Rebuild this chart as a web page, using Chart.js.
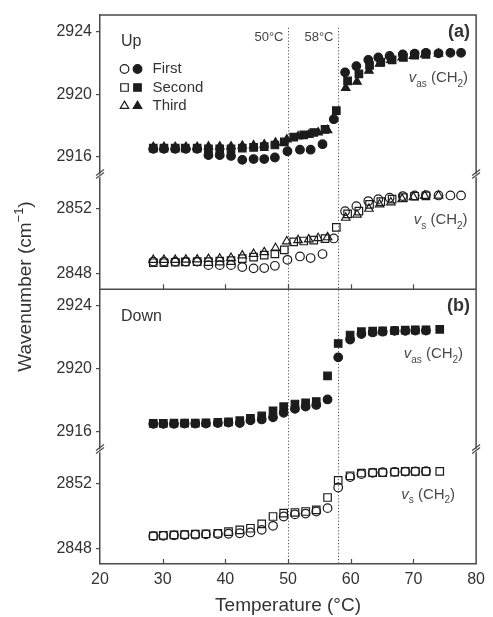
<!DOCTYPE html>
<html>
<head>
<meta charset="utf-8">
<script src="https://cdn.jsdelivr.net/npm/chart.js@4.4.1/dist/chart.umd.min.js"></script>
<style>
  html, body { margin: 0; padding: 0; background: #fff; }
  canvas { display: block; }
</style>
</head>
<body>
<canvas id="c" width="493" height="617"></canvas>
<script>
// ---- Temperature axis ----
const xTicks = [20, 30, 40, 50, 60, 70, 80];
const transitionTemps = [50, 58];
const transitionLabels = ['50°C', '58°C'];

// ---- Wavenumber ticks for each axis section ----
const ticksAs = [2916, 2920, 2924];   // asymmetric stretch sections
const ticksS = [2848, 2852];          // symmetric stretch sections
const runs = ['First', 'Second', 'Third'];

// ---- (a) heating: First run ----
const tUpFirst = [28.5, 30.2, 32.0, 33.7, 35.5, 37.3, 39.1, 40.9, 42.7, 44.5, 46.2, 47.9, 49.9, 51.9, 53.6, 55.5, 57.3,
  59.1, 60.9, 62.8, 64.4, 66.2, 68.3, 70.2, 72.0, 74.0, 75.9, 77.6];
const vasUpFirst = [2916.5, 2916.5, 2916.5, 2916.5, 2916.5, 2916.1, 2916.1, 2916.05, 2915.8, 2915.85, 2915.85, 2915.95,
  2916.35, 2916.45, 2916.45, 2916.8, 2918.4, 2921.4, 2921.8, 2922.2, 2922.35, 2922.45, 2922.55, 2922.6, 2922.65,
  2922.62, 2922.65, 2922.65];
const vsUpFirst = [2848.72, 2848.72, 2848.72, 2848.72, 2848.72, 2848.5, 2848.5, 2848.5, 2848.38, 2848.3, 2848.32, 2848.46,
  2848.83, 2849.04, 2848.94, 2849.19, 2850.16, 2851.85, 2852.16, 2852.48, 2852.6, 2852.69, 2852.79, 2852.83, 2852.85,
  2852.83, 2852.83, 2852.83];

// ---- (a) heating: Second run ----
const tUpSecond = [28.5, 30.2, 32.0, 33.6, 35.5, 37.3, 39.1, 40.9, 42.7, 44.5, 46.2, 47.9, 49.4, 50.9, 52.5, 54.1, 55.9, 57.7,
  59.5, 61.3, 63.0, 64.8, 66.6, 68.4, 70.2, 72.0];
const vasUpSecond = [2916.55, 2916.55, 2916.55, 2916.55, 2916.55, 2916.5, 2916.5, 2916.5, 2916.55, 2916.6, 2916.65, 2916.75,
  2916.95, 2917.25, 2917.4, 2917.55, 2917.75, 2918.95, 2920.85, 2921.3, 2921.85, 2922.05, 2922.2, 2922.35, 2922.5, 2922.55];
const vsUpSecond = [2848.65, 2848.65, 2848.68, 2848.7, 2848.72, 2848.72, 2848.75, 2848.78, 2848.9, 2849.0, 2849.12, 2849.2,
  2849.45, 2849.95, 2850.0, 2850.05, 2850.15, 2850.85, 2851.69, 2851.85, 2852.27, 2852.45, 2852.6, 2852.7, 2852.78, 2852.8];

// ---- (a) heating: Third run ----
const tUpThird = [28.5, 30.2, 32.0, 33.7, 35.5, 37.3, 39.1, 40.9, 42.7, 44.5, 46.2, 48.0, 49.8, 51.6, 53.3, 54.8, 56.3,
  59.2, 61.0, 62.9, 64.6, 66.4, 68.2, 70.0, 71.8, 74.0];
const vasUpThird = [2916.62, 2916.62, 2916.62, 2916.62, 2916.62, 2916.65, 2916.65, 2916.65, 2916.7, 2916.72, 2916.78, 2916.9,
  2917.1, 2917.3, 2917.4, 2917.55, 2917.7, 2920.4, 2920.8, 2921.5, 2921.95, 2922.2, 2922.35, 2922.45, 2922.55, 2922.6];
const vsUpThird = [2848.83, 2848.83, 2848.83, 2848.84, 2848.85, 2848.88, 2848.9, 2848.95, 2849.1, 2849.2, 2849.3, 2849.56,
  2849.98, 2850.05, 2850.1, 2850.18, 2850.23, 2851.44, 2851.64, 2852.0, 2852.27, 2852.4, 2852.6, 2852.72, 2852.8, 2852.82];

// ---- (b) cooling ----
const tDownSq = [28.5, 30.1, 31.8, 33.5, 35.2, 36.9, 38.8, 40.5, 42.3, 44.0, 45.8, 47.6, 49.3, 51.1, 52.8, 54.5, 56.3, 58.0,
  59.9, 61.7, 63.5, 65.1, 67.0, 68.7, 70.3, 72.0, 74.2];
const vasDownSq = [2916.53, 2916.53, 2916.55, 2916.55, 2916.55, 2916.57, 2916.6, 2916.62, 2916.7, 2916.85, 2917.0, 2917.33,
  2917.59, 2917.76, 2917.84, 2917.92, 2919.54, 2921.6, 2922.14, 2922.35, 2922.38, 2922.4, 2922.42, 2922.45, 2922.46,
  2922.47, 2922.5];
const vsDownSq = [2848.77, 2848.8, 2848.83, 2848.85, 2848.87, 2848.9, 2848.93, 2849.03, 2849.14, 2849.24, 2849.51, 2849.97,
  2850.18, 2850.22, 2850.28, 2850.38, 2851.15, 2852.21, 2852.5, 2852.67, 2852.7, 2852.7, 2852.73, 2852.77, 2852.77,
  2852.77, 2852.77];
const tDownCirc = [28.5, 30.1, 31.8, 33.5, 35.2, 36.9, 38.8, 40.5, 42.3, 44.0, 45.8, 47.6, 49.3, 51.1, 52.8, 54.5, 56.3, 58.0,
  59.9, 61.7, 63.5, 65.1, 67.0, 68.7, 70.3, 72.0];
const vasDownCirc = [2916.5, 2916.5, 2916.5, 2916.52, 2916.52, 2916.52, 2916.55, 2916.58, 2916.55, 2916.72, 2916.78, 2916.92,
  2917.2, 2917.45, 2917.6, 2917.7, 2918.05, 2920.72, 2921.85, 2922.2, 2922.3, 2922.35, 2922.4, 2922.4, 2922.42, 2922.42];
const vsDownCirc = [2848.75, 2848.77, 2848.8, 2848.82, 2848.84, 2848.86, 2848.88, 2848.9, 2848.93, 2848.98, 2849.14, 2849.39,
  2849.97, 2850.1, 2850.15, 2850.28, 2850.49, 2851.77, 2852.42, 2852.6, 2852.68, 2852.72, 2852.74, 2852.76, 2852.77, 2852.78];

// ---- styling ----
const FONT = "'Liberation Sans', Arial, Helvetica, sans-serif";
const INK = '#333333';
const AXIS = '#4a4a4a';
const MARK = '#1c1c1c';
const SIZE = { circle: 4.3, rect: 5.3, triangle: 4.9 };

function series(label, xs, ys, axis, style, filled) {
  return {
    label,
    yAxisID: axis,
    data: xs.map((x, i) => ({ x, y: ys[i] })),
    pointStyle: style,
    pointRadius: SIZE[style],
    pointHoverRadius: SIZE[style],
    pointBackgroundColor: filled ? MARK : 'rgba(0,0,0,0)',
    pointBorderColor: MARK,
    pointBorderWidth: 1.2,
    showLine: false
  };
}

function yScale(min, max, ticks, weight, stackWeight) {
  return {
    type: 'linear',
    position: 'left',
    stack: 'wavenumber',
    stackWeight,
    weight,
    min,
    max,
    afterBuildTicks: s => { s.ticks = ticks.map(v => ({ value: v })); },
    afterFit: s => { s.width = 50; },
    grid: { drawOnChartArea: false, drawTicks: true, tickLength: 4, color: AXIS, lineWidth: 1.2 },
    border: { display: true, color: AXIS, width: 1.5 },
    ticks: { font: { family: FONT, size: 16, lineHeight: 1 }, color: INK, padding: 4, callback: v => String(v) }
  };
}

function richText(ctx, parts, x, yBase, size, align) {
  const fontFor = k => (k === 'i' ? 'italic ' : '') + ((k === 's' || k === 'u') ? Math.round(size * 0.68) : size) + 'px ' + FONT;
  let w = 0;
  for (const [t, k] of parts) { ctx.font = fontFor(k); w += ctx.measureText(t).width; }
  let cx = align === 'right' ? x - w : (align === 'center' ? x - w / 2 : x);
  ctx.textAlign = 'left';
  ctx.textBaseline = 'alphabetic';
  for (const [t, k] of parts) {
    ctx.font = fontFor(k);
    const dy = k === 's' ? size * 0.3 : (k === 'u' ? -size * 0.42 : 0);
    ctx.fillText(t, cx, yBase + dy);
    cx += ctx.measureText(t).width;
  }
}

function drawBreak(ctx, x, y) {
  ctx.save();
  ctx.fillStyle = '#fff';
  ctx.beginPath();
  ctx.moveTo(x - 4, y + 2); ctx.lineTo(x + 4, y - 4); ctx.lineTo(x + 4, y - 1); ctx.lineTo(x - 4, y + 5);
  ctx.closePath();
  ctx.fill();
  ctx.strokeStyle = AXIS;
  ctx.lineWidth = 1.2;
  for (const dy of [0, 3]) {
    ctx.beginPath();
    ctx.moveTo(x - 4, y + 2 + dy - 1.5);
    ctx.lineTo(x + 4, y - 4 + dy - 1.5);
    ctx.stroke();
  }
  ctx.restore();
}

const decor = {
  id: 'decor',
  beforeDatasetsDraw(chart) {
    const { ctx, chartArea, scales } = chart;
    const top = scales.yA1.getPixelForValue(2924.25);
    ctx.save();
    ctx.strokeStyle = '#5a5a5a';
    ctx.lineWidth = 1;
    ctx.setLineDash([1.2, 2]);
    transitionTemps.forEach((t, i) => {
      const px = Math.round(scales.x.getPixelForValue(t)) + 0.5;
      ctx.beginPath();
      ctx.moveTo(px, top);
      ctx.lineTo(px, chartArea.bottom);
      ctx.stroke();
      ctx.fillStyle = '#444';
      ctx.font = '13px ' + FONT;
      ctx.textAlign = 'right';
      ctx.textBaseline = 'middle';
      ctx.fillText(transitionLabels[i], px - 5, chartArea.top + 22);
    });
    ctx.restore();
  },
  afterDatasetsDraw(chart) {
    const { ctx, chartArea, scales } = chart;
    const { left, right, top, bottom } = chartArea;
    const divider = scales.yA2.bottom;
    ctx.save();

    // frame: top, right and the line between the two panels
    ctx.strokeStyle = AXIS;
    ctx.lineWidth = 1.5;
    ctx.beginPath();
    ctx.moveTo(left, top); ctx.lineTo(right, top); ctx.lineTo(right, bottom);
    ctx.moveTo(left, divider); ctx.lineTo(right, divider);
    ctx.stroke();

    // inward temperature ticks on each panel's lower edge
    ctx.lineWidth = 1.2;
    for (const base of [divider, bottom]) {
      for (const t of xTicks) {
        if (t === scales.x.min || t === scales.x.max) continue;
        const px = Math.round(scales.x.getPixelForValue(t)) + 0.5;
        ctx.beginPath(); ctx.moveTo(px, base); ctx.lineTo(px, base - 5); ctx.stroke();
      }
    }

    // axis breaks
    for (const y of [scales.yA1.bottom, scales.yB1.bottom]) {
      drawBreak(ctx, left, y);
      drawBreak(ctx, right, y);
    }

    // panel captions
    ctx.fillStyle = INK;
    ctx.textBaseline = 'middle';
    ctx.textAlign = 'left';
    ctx.font = '16px ' + FONT;
    ctx.fillText('Up', left + 21, top + 27);
    ctx.fillText('Down', left + 21, divider + 27.5);
    ctx.textAlign = 'right';
    ctx.font = 'bold 18px ' + FONT;
    ctx.fillText('(a)', right - 6, top + 17);
    ctx.fillText('(b)', right - 6, divider + 17);

    // legend: open (symmetric) and filled (asymmetric) markers per run
    const styles = ['circle', 'rect', 'triangle'];
    runs.forEach((name, i) => {
      const y = top + 54 + i * 18.5;
      const st = styles[i];
      const r = SIZE[st];
      ctx.strokeStyle = MARK;
      ctx.lineWidth = 1.2;
      ctx.fillStyle = 'rgba(0,0,0,0)';
      Chart.helpers.drawPoint(ctx, { pointStyle: st, radius: r, borderWidth: 1.2, rotation: 0 }, left + 24.5, y);
      ctx.fillStyle = MARK;
      Chart.helpers.drawPoint(ctx, { pointStyle: st, radius: r, borderWidth: 1.2, rotation: 0 }, left + 37.5, y);
      ctx.fillStyle = INK;
      ctx.font = '15px ' + FONT;
      ctx.textAlign = 'left';
      ctx.textBaseline = 'middle';
      ctx.fillText(name, left + 52.5, y);
    });

    // band labels
    ctx.fillStyle = '#4a4a4a';
    const vas = [['v', 'i'], ['as', 's'], [' (CH', ''], ['2', 's'], [')', '']];
    const vs = [['v', 'i'], ['s', 's'], [' (CH', ''], ['2', 's'], [')', '']];
    richText(ctx, vas, right - 8, top + 67, 15, 'right');
    richText(ctx, vs, right - 8.5, scales.yA2.top + 49, 15, 'right');
    richText(ctx, vas, right - 13, divider + 69, 15, 'right');
    richText(ctx, vs, right - 21, scales.yB2.top + 48.5, 15, 'right');

    // wavenumber axis title
    ctx.save();
    ctx.translate(31, (top + bottom) / 2 - 3);
    ctx.rotate(-Math.PI / 2);
    ctx.fillStyle = INK;
    richText(ctx, [['Wavenumber (cm', ''], ['\u22121', 'u'], [')', '']], 0, 0, 19, 'center');
    ctx.restore();

    ctx.restore();
  }
};

new Chart(document.getElementById('c'), {
  type: 'scatter',
  data: {
    datasets: [
      series('First', tUpFirst, vasUpFirst, 'yA1', 'circle', true),
      series('Second', tUpSecond, vasUpSecond, 'yA1', 'rect', true),
      series('Third', tUpThird, vasUpThird, 'yA1', 'triangle', true),
      series('First', tUpFirst, vsUpFirst, 'yA2', 'circle', false),
      series('Second', tUpSecond, vsUpSecond, 'yA2', 'rect', false),
      series('Third', tUpThird, vsUpThird, 'yA2', 'triangle', false),
      series('First', tDownCirc, vasDownCirc, 'yB1', 'circle', true),
      series('Second', tDownSq, vasDownSq, 'yB1', 'rect', true),
      series('First', tDownCirc, vsDownCirc, 'yB2', 'circle', false),
      series('Second', tDownSq, vsDownSq, 'yB2', 'rect', false)
    ]
  },
  options: {
    responsive: false,
    animation: false,
    devicePixelRatio: 1,
    events: [],
    layout: { padding: { left: 50, top: 15, right: 12, bottom: 0 } },
    plugins: { legend: { display: false }, tooltip: { enabled: false } },
    scales: {
      x: {
        type: 'linear',
        position: 'bottom',
        min: 20,
        max: 80,
        afterBuildTicks: s => { s.ticks = xTicks.map(v => ({ value: v })); },
        afterFit: s => { s.height = 53; },
        grid: { drawOnChartArea: false, drawTicks: false },
        border: { display: true, color: AXIS, width: 1.5 },
        ticks: { font: { family: FONT, size: 16, lineHeight: 1 }, color: INK, padding: 8, maxRotation: 0, callback: v => String(v) },
        title: { display: true, text: 'Temperature (°C)', color: INK, font: { family: FONT, size: 19, lineHeight: 1 }, padding: { top: 0, bottom: 2 } }
      },
      yA1: yScale(2914.83, 2925.07, ticksAs, 4, 160),
      yA2: yScale(2847.0, 2854.1, ticksS, 3, 114.3),
      yB1: yScale(2914.84, 2925.04, ticksAs, 2, 160.7),
      yB2: yScale(2847.02, 2854.1, ticksS, 1, 114)
    }
  },
  plugins: [decor]
});
</script>
</body>
</html>
